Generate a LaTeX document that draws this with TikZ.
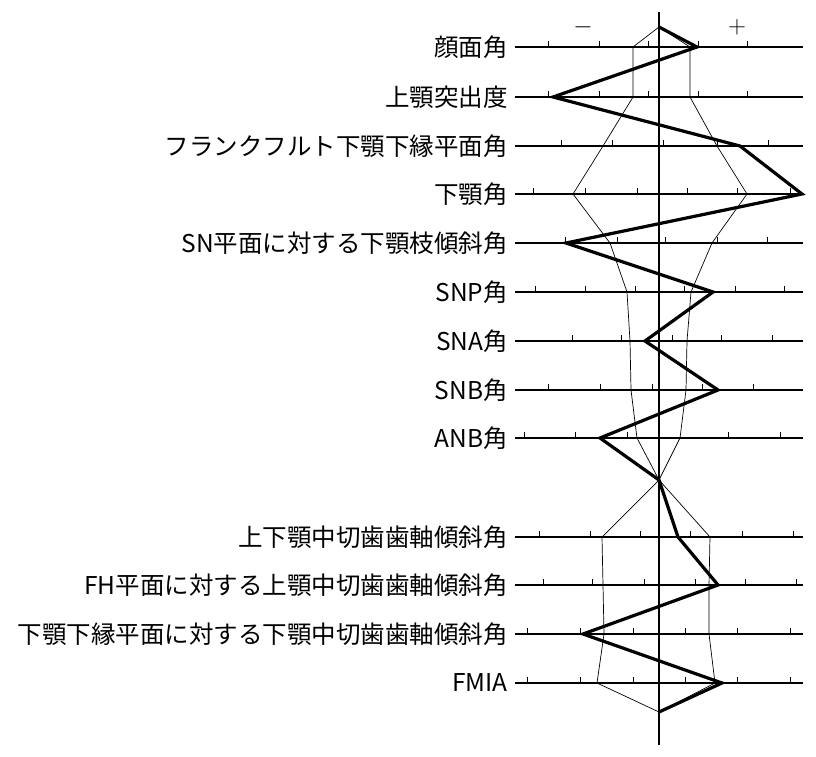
\documentclass[tikz,border=0pt]{standalone}
\usepackage{fontspec}
\newfontfamily\jp{Noto Sans CJK JP}
\usetikzlibrary{calc}
\tikzset{>=latex}
\tikzset{
  rowline/.style={line width=1.3pt},
  tick/.style={line width=1pt},
  band/.style={line width=0.7pt},
  pattern/.style={line width=3.2pt, line join=miter},
  lbl/.style={anchor=east, inner sep=0pt, font=\jp\fontsize{24.5}{26}\selectfont}
}
\begin{document}
\begin{tikzpicture}[x=1pt, y=-1pt]
    \useasboundingbox (0,0) rectangle (816,757);

    % rows: y / label / ticks / thick / left / right
    \foreach \n/\yy/\txt/\ticks/\p/\l/\r in {
      1/47/顔面角/{548,599,648,698,747}/697/633/690,
      2/97/上顎突出度/{548,599,648,698,747}/553/633/690,
      3/146/フランクフルト下顎下縁平面角/{561,612,663,717,768}/740/603/717,
      4/194/下顎角/{533,585,637,687,737,790}/802/573/747,
      5/243/SN平面に対する下顎枝傾斜角/{565,617,665,717,767}/566/610/712,
      6/292/SNP角/{535,585,635,684,735,784}/713/627/691,
      7/341/SNA角/{572,621,672,721,772}/645/630/687,
      8/390/SNB角/{548,600,652,702,753}/718/631/686,
      9/438/ANB角/{524,575,627,728,780}/600/637/680,
      10/537/上下顎中切歯歯軸傾斜角/{539,590,640,690,742,793}/678/602/710,
      11/585/FH平面に対する上顎中切歯歯軸傾斜角/{543,592,644,695,745,796}/718/603/709,
      12/634/下顎下縁平面に対する下顎中切歯歯軸傾斜角/{527,580,633,685,737,790}/583/604/709,
      13/683/FMIA/{527,580,633,685,737,790}/722/597/715} {
      \node[lbl] (lab\n) at (508,\yy) {\txt};
      \draw[rowline] (515,\yy) -- (803,\yy);
      \foreach \t in \ticks
        \draw[tick] (\t,\yy) -- (\t,\yy-6);
      \coordinate (p\n) at (\p,\yy);
      \coordinate (l\n) at (\l,\yy);
      \coordinate (r\n) at (\r,\yy);
    }

    \coordinate (top) at (659,27);
    \coordinate (mid) at (659,480);
    \coordinate (bot) at (659,712);
    \draw[line width=1.2pt] (659,12) -- (659,745);

    \node (minus) at (583,27) {\fontsize{30}{30}\selectfont $-$};
    \node (plus) at (737,27) {\fontsize{30}{30}\selectfont $+$};

    \draw[band] (top) -- (l1) -- (l2) -- (l3) -- (l4) -- (l5) -- (l6) -- (l7) -- (l8) -- (l9) -- (mid)
      -- (r10) -- (r11) -- (r12) -- (r13) -- (bot);
    \draw[band] (top) -- (r1) -- (r2) -- (r3) -- (r4) -- (r5) -- (r6) -- (r7) -- (r8) -- (r9) -- (mid)
      -- (l10) -- (l11) -- (l12) -- (l13) -- (bot);
    \draw[pattern] (top) -- (p1) -- (p2) -- (p3) -- (p4) -- (p5) -- (p6) -- (p7) -- (p8) -- (p9) -- (mid)
      -- (p10) -- (p11) -- (p12) -- (p13) -- (bot);
\end{tikzpicture}
\end{document}
